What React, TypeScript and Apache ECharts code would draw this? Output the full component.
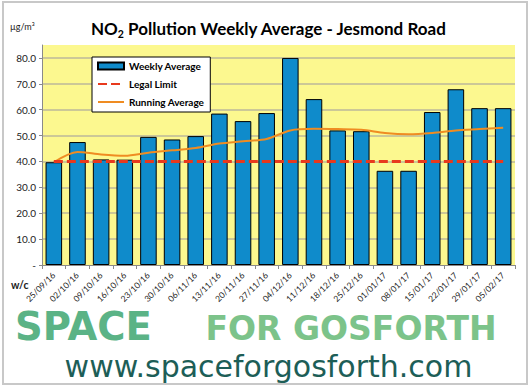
import React, { useEffect, useRef } from 'react';
import * as echarts from 'echarts';

const weeks = [
  '25/09/16', '02/10/16', '09/10/16', '16/10/16', '23/10/16', '30/10/16', '06/11/16',
  '13/11/16', '20/11/16', '27/11/16', '04/12/16', '11/12/16', '18/12/16', '25/12/16',
  '01/01/17', '08/01/17', '15/01/17', '22/01/17', '29/01/17', '05/02/17',
];
const weeklyAverage = [
  39.7, 47.5, 40.8, 40.7, 49.5, 48.5, 49.8, 58.5, 55.6, 58.7,
  80.0, 64.1, 52.0, 51.7, 36.4, 36.4, 59.1, 67.9, 60.6, 60.6,
];
const legalLimit = [
  40, 40, 40, 40, 40, 40, 40, 40, 40, 40,
  40, 40, 40, 40, 40, 40, 40, 40, 40, 40,
];
const runningAverage = [
  39.7, 43.7, 42.7, 42.2, 43.4, 44.3, 45.2, 46.9, 47.8, 48.7,
  52.0, 52.6, 52.5, 52.3, 51.0, 50.5, 51.0, 52.0, 52.5, 53.0,
];

const FONT = 'Lato, "Noto Sans", sans-serif';

export default function App() {
  const ref = useRef<HTMLDivElement>(null);
  useEffect(() => {
    const chart = echarts.init(ref.current!, null, { renderer: 'svg' });
    chart.setOption({
      animation: false,
      backgroundColor: '#ffffff',
      title: {
        text: '{a|NO}{s|2}{a| Pollution Weekly Average - Jesmond Road}',
        left: 86,
        top: 12,
        textStyle: {
          rich: {
            a: { fontFamily: FONT, fontSize: 17, fontWeight: 'bold', color: '#000', lineHeight: 22 },
            s: { fontFamily: FONT, fontSize: 10.5, fontWeight: 'bold', color: '#000', lineHeight: 9, verticalAlign: 'bottom' },
          },
        },
      },
      legend: {
        orient: 'vertical',
        left: 92,
        top: 57,
        padding: [4, 6, 5, 5],
        itemGap: 8,
        itemWidth: 26,
        itemHeight: 7,
        backgroundColor: '#ffffff',
        borderColor: '#000000',
        borderWidth: 1,
        borderRadius: 0,
        textStyle: { fontFamily: FONT, fontSize: 10, fontWeight: 'bold', color: '#000' },
        data: [
          { name: 'Weekly Average', icon: 'rect' },
          { name: 'Legal Limit', itemStyle: { opacity: 0 } },
          { name: 'Running Average', itemStyle: { opacity: 0 } },
        ],
      },
      grid: {
        left: 42,
        right: 16,
        top: 45,
        bottom: 124,
        show: true,
        backgroundColor: '#fcf88f',
        borderWidth: 0,
      },
      xAxis: {
        type: 'category',
        data: weeks,
        boundaryGap: true,
        axisLine: { show: true, lineStyle: { color: '#8a8a8a', width: 1 } },
        axisTick: { show: true, length: 4, lineStyle: { color: '#8a8a8a' } },
        axisLabel: {
          rotate: 45, fontSize: 8.5, fontFamily: FONT, color: '#222', margin: 9, interval: 0,
        },
      },
      yAxis: {
        type: 'value',
        min: 0,
        max: 85,
        interval: 10,
        axisLine: { show: true, lineStyle: { color: '#8a8a8a', width: 1 } },
        axisTick: { show: true, length: 3, lineStyle: { color: '#8a8a8a' } },
        splitLine: { show: true, showMaxLine: false, showMinLine: false, lineStyle: { color: '#bdb99a', width: 1.5 } },
        axisLabel: {
          fontSize: 10,
          fontFamily: FONT,
          color: '#222',
          margin: 6,
          showMaxLabel: false,
          formatter: (v: number) => (v === 0 ? '-' : v.toFixed(1)),
        },
      },
      series: [
        {
          name: 'Weekly Average',
          type: 'bar',
          data: weeklyAverage,
          barCategoryGap: '30%',
          itemStyle: { color: '#0f8bcb', borderColor: '#000000', borderWidth: 1 },
          z: 2,
        },
        {
          name: 'Legal Limit',
          type: 'line',
          data: legalLimit,
          symbol: 'none',
          lineStyle: { color: '#e8391d', width: 3, type: [9, 4] },
          itemStyle: { color: '#e8391d' },
          z: 4,
        },
        {
          name: 'Running Average',
          type: 'line',
          data: runningAverage,
          symbol: 'none',
          smooth: 0.3,
          lineStyle: { color: '#ef8c22', width: 2 },
          itemStyle: { color: '#ef8c22' },
          z: 3,
        },
      ],
      graphic: [
        {
          type: 'rect',
          shape: { x: 3, y: 2, width: 524, height: 382 },
          style: { fill: 'none', stroke: '#c8c8c8', lineWidth: 2 },
          silent: true,
        },
        {
          type: 'text',
          x: 10,
          y: 22,
          style: { text: 'µg/m³', fontSize: 9, fontFamily: FONT, fill: '#222' },
        },
        {
          type: 'text',
          x: 11,
          y: 279,
          style: { text: 'w/c', fontSize: 10.5, fontWeight: 'bold', fontFamily: FONT, fill: '#222' },
        },
        {
          type: 'text',
          x: 15,
          y: 326.5,
          style: {
            text: 'SPACE', fontSize: 38.5, fontWeight: 'bold', fontFamily: '"DejaVu Sans"', fill: '#5bb386',
            lineHeight: 30, verticalAlign: 'middle',
          },
        },
        {
          type: 'text',
          x: 351,
          y: 328.6,
          style: {
            text: 'FOR GOSFORTH', fontSize: 33, fontWeight: 'bold', fontFamily: '"DejaVu Sans"', fill: '#7cc38a',
            lineHeight: 27, verticalAlign: 'middle', align: 'center',
          },
        },
        {
          type: 'text',
          x: 268.5,
          y: 366.6,
          style: {
            text: 'www.spaceforgosforth.com', fontSize: 30, fontFamily: '"DejaVu Sans"', fill: '#1d5e57',
            lineHeight: 26, verticalAlign: 'middle', align: 'center',
          },
        },
      ],
    });
    return () => chart.dispose();
  }, []);
  return <div ref={ref} style={{ position: 'absolute', left: 0, top: 0, width: 531, height: 389 }} />;
}
